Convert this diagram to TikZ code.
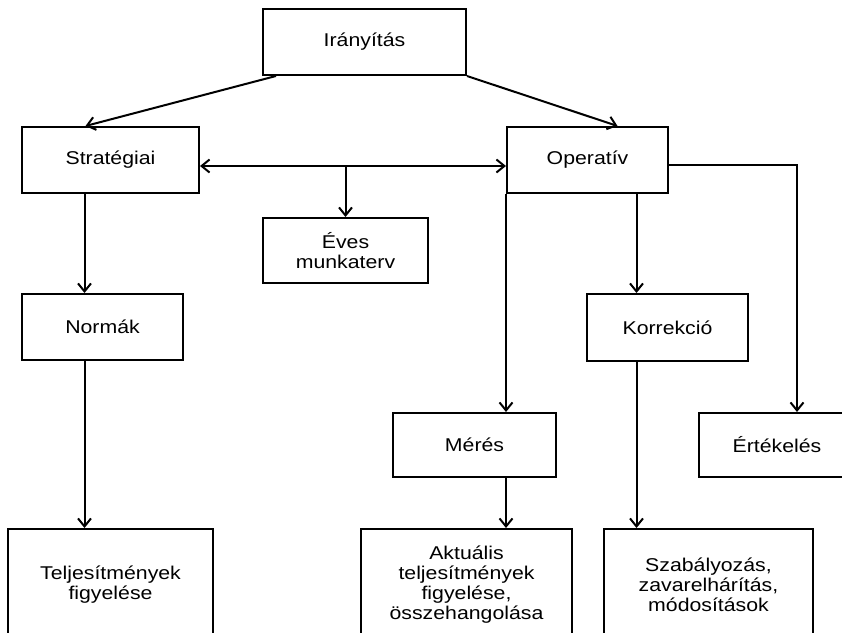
\documentclass[tikz,border=0pt]{standalone}
\usepackage{fontspec}
\setmainfont{Liberation Sans}[FakeStretch=1.15]
\usetikzlibrary{arrows.meta}
\begin{document}
\begin{tikzpicture}[x=1pt, y=-1pt, >={Straight Barb[length=8pt,width=13pt]}, line width=2pt, font=\fontsize{18.5pt}{20pt}\selectfont]
\tikzset{
	box/.style={draw, align=center, inner sep=0pt, minimum width=161pt, minimum height=66pt},
	tallbox/.style={draw, align=center, inner sep=0pt, minimum height=111pt}
}
\useasboundingbox (0,0) rectangle (842,632);

% Upper levels
\node[box, minimum width=203pt] (iranyitas) at (364.5,42) {Irányítás};
\node[box, minimum width=177pt] (strat) at (110.5,160) {Stratégiai};
\node[box] (operativ) at (587.5,160) {Operatív};
\node[box, minimum width=165pt, minimum height=65pt] (eves) at (345.5,250.5) {Éves\\munkaterv};
\node[box] (normak) at (102.5,327) {Normák};
\node[box, minimum height=67pt] (korrekcio) at (667.5,327.5) {Korrekció};
\node[box, minimum width=163pt, minimum height=64pt] (meres) at (474.5,445) {Mérés};
\node[box, minimum width=156pt, minimum height=64pt] (ertekeles) at (777,445) {Értékelés};

% Bottom row (cut by the page edge)
\node[tallbox, minimum width=205pt] (teljesit) at (110.5,584.5) {Teljesítmények\\figyelése};
\node[tallbox, minimum width=211pt] (aktualis) at (466.5,584.5) {Aktuális\\teljesítmények\\figyelése,\\összehangolása};
\node[tallbox, minimum width=209pt] (szabaly) at (708.5,584.5) {Szabályozás,\\zavarelhárítás,\\módosítások};

% Arrows
\draw[->] ([xshift=14pt]iranyitas.south west) -- ([xshift=-25pt]strat.north);
\draw[->] (iranyitas.south east) -- ([xshift=30pt]operativ.north);

\coordinate (h) at ([yshift=-6pt]strat.east);
\draw[<->] (h) -- (h -| operativ.west);
\draw[->] (h -| eves.north) -- (eves.north);

\draw[->] ([xshift=-18pt]normak.north |- strat.south) -- ([xshift=-18pt]normak.north);
\draw[->] ([xshift=-18pt]normak.south) -- ([xshift=-18pt]normak.south |- teljesit.north);

\draw[->] ([xshift=-31pt]korrekcio.north |- operativ.south) -- ([xshift=-31pt]korrekcio.north);
\draw[->] ([xshift=-31pt]korrekcio.south) -- ([xshift=-31pt]korrekcio.south |- szabaly.north);

\draw[->] (operativ.south west) -- (operativ.south west |- meres.north);
\draw[->] (operativ.south west |- meres.south) -- (operativ.south west |- aktualis.north);

\draw[->] ([yshift=-5pt]operativ.east) -| ([xshift=20pt]ertekeles.north);

\end{tikzpicture}
\end{document}
